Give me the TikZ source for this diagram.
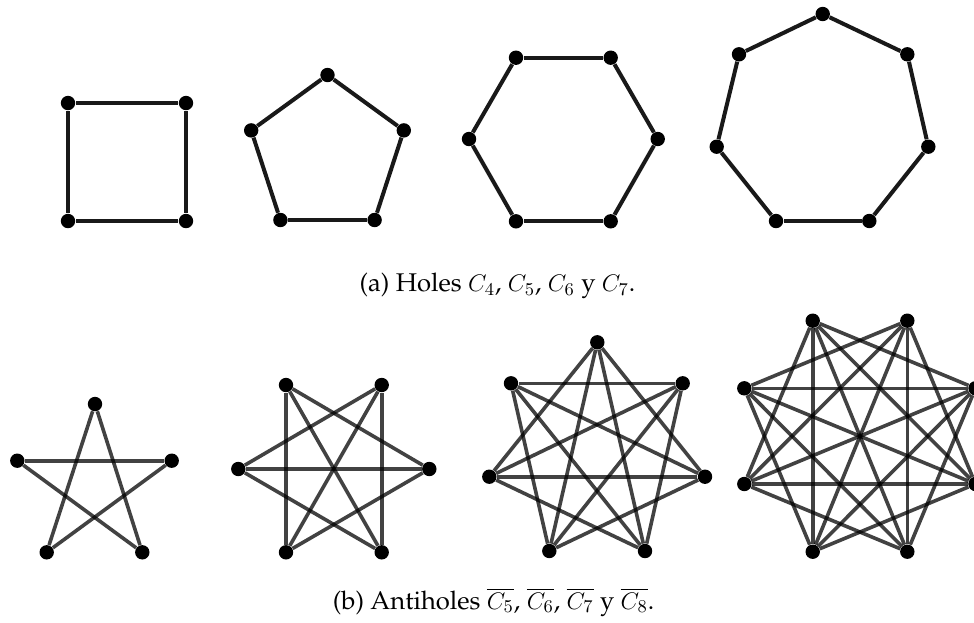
\documentclass[tikz,border=0pt]{standalone}
\usepackage{amsmath,amssymb}
\usepackage{xcolor}
\usepackage{tikz}
\usetikzlibrary{backgrounds}
\tikzset{
  vertex/.style={circle, fill=black, draw=none, inner sep=0pt, minimum size=7.2pt},
  hole edge/.style={draw=black!90, line width=2pt},
  anti edge/.style={draw=black, line width=1.8pt, opacity=0.74},
  caption/.style={font=\fontencoding{T1}\fontfamily{ppl}\fontsize{12.8}{15}\selectfont, inner sep=0pt},
}

\begin{document}
\begin{tikzpicture}[x=0.5pt, y=-0.5pt]
  \useasboundingbox (0,0) rectangle (974,622);

  % Holes
  \foreach \p [count=\i] in {(68,103),(186,103),(186,221),(68,221)}
    \node[vertex] (h4-\i) at \p {};
  \foreach \p [count=\i] in {(327.5,75),(403.8,130.4),(374.6,220),(280.4,220),(251.2,130.4)}
    \node[vertex] (h5-\i) at \p {};
  \foreach \p [count=\i] in {(516,57.7),(610.7,57.7),(657.7,139),(610.7,221.3),(516,221.3),(469,139)}
    \node[vertex] (h6-\i) at \p {};
  \foreach \p [count=\i] in {(822.7,14),(907.3,54.3),(928.3,146.7),(869.3,221),(776,221),(716.7,146.7),(739,54.3)}
    \node[vertex] (h7-\i) at \p {};

  \begin{pgfonlayer}{background}
    \foreach \n in {4,5,6,7} {
      \foreach \i in {1,...,\n} {
        \pgfmathtruncatemacro\k{mod(\i,\n)+1}
        \draw[hole edge] (h\n-\i) -- (h\n-\k);
      }
    }
  \end{pgfonlayer}

  \node[caption] (capa) at (497.5,286) {(a) Holes $C_4$, $C_5$, $C_6$ y $C_7$.};

  % Antiholes
  \foreach \p [count=\i] in {(95,404),(171.7,460.7),(142.3,552.3),(46.7,552.3),(17.3,460.7)}
    \node[vertex] (a5-\i) at \p {};
  \foreach \p [count=\i] in {(286,385),(381.7,385),(429.3,469),(381.7,552.3),(286,552.3),(238.3,469)}
    \node[vertex] (a6-\i) at \p {};
  \foreach \p [count=\i] in {(597.3,342.3),(682.7,383.3),(705,476.7),(645,551),(549.3,551),(489.3,476.7),(511,383.3)}
    \node[vertex] (a7-\i) at \p {};
  \foreach \p [count=\i] in {(812.7,320.7),(907.3,320.7),(975.5,388.3),(975.5,484),(907.3,551.7),(812.7,551.7),(744.3,484),(744.3,388.3)}
    \node[vertex] (a8-\i) at \p {};

  \begin{pgfonlayer}{background}
    \foreach \n in {5,6,7,8} {
      \foreach \i in {1,...,\n} {
        \foreach \j in {1,...,\n} {
          \pgfmathtruncatemacro\d{\j-\i}
          \pgfmathtruncatemacro\m{\n-1}
          \ifnum\d>1 \ifnum\d<\m
            \draw[anti edge] (a\n-\i) -- (a\n-\j);
          \fi\fi
        }
      }
    }
  \end{pgfonlayer}

  \node[caption] (capb) at (493.5,602) {(b) Antiholes $\overline{C_5}$, $\overline{C_6}$, $\overline{C_7}$ y $\overline{C_8}$.};
\end{tikzpicture}
\end{document}
